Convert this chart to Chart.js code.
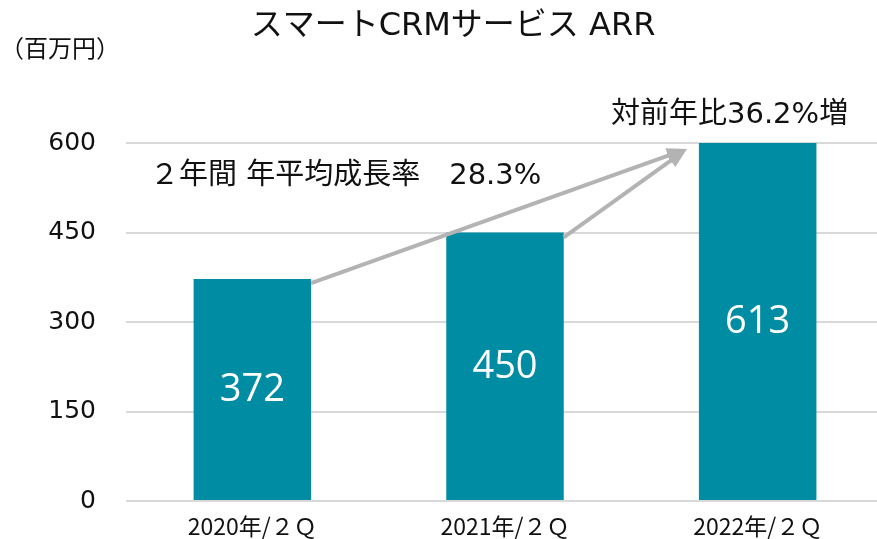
<!DOCTYPE html>
<html>
<head>
<meta charset="utf-8">
<script src="https://cdn.jsdelivr.net/npm/chart.js@4/dist/chart.umd.min.js"></script>
<style>
  html, body { margin: 0; padding: 0; background: #fff; overflow: hidden; }
  #wrap { width: 884px; height: 539px; }
</style>
</head>
<body>
<div id="wrap"><canvas id="c" width="884" height="539"></canvas></div>
<script>
const categories = ['2020年/２Ｑ', '2021年/２Ｑ', '2022年/２Ｑ'];
const arrValues = [372, 450, 613];
const yTickValues = [0, 150, 300, 450, 600];
const chartTitle = 'スマートCRMサービス ARR';
const unitLabel = '（百万円）';
const yoyLabel = '対前年比36.2%増';
const cagrLabel = '２年間 年平均成長率　28.3%';

const FONT = '"DejaVu Sans", "Noto Sans CJK JP", sans-serif';
const BAR_COLOR = '#008ca3';

const overlay = {
  id: 'overlay',
  afterDatasetsDraw(chart) {
    const ctx = chart.ctx;
    const area = chart.chartArea;
    const xs = chart.scales.x, ys = chart.scales.y;
    const meta = chart.getDatasetMeta(0);
    ctx.save();
    // value labels
    ctx.fillStyle = '#ffffff';
    ctx.font = '38px "Open Sans", "DejaVu Sans", sans-serif';
    ctx.textAlign = 'center';
    ctx.textBaseline = 'middle';
    meta.data.forEach((bar, i) => {
      const top = Math.max(bar.y, area.top);
      const bottom = bar.base;
      ctx.fillText(String(arrValues[i]), bar.x, (top + bottom) / 2 + 1);
    });
    // arrows
    const tipX = xs.getPixelForValue(1.72);
    const tipY = ys.getPixelForValue(590);
    const b0 = meta.data[0], b1 = meta.data[1];
    const starts = [
      [b0.x + b0.width / 2, ys.getPixelForValue(arrValues[0] - 7)],
      [b1.x + b1.width / 2, ys.getPixelForValue(arrValues[1] - 8)]
    ];
    ctx.strokeStyle = '#b3b3b3';
    ctx.fillStyle = '#b3b3b3';
    ctx.lineWidth = 4;
    ctx.lineCap = 'butt';
    starts.forEach(([sx, sy]) => {
      const ang = Math.atan2(tipY - sy, tipX - sx);
      const headLen = 20, headW = 8;
      const bx = tipX - headLen * Math.cos(ang);
      const by = tipY - headLen * Math.sin(ang);
      ctx.beginPath();
      ctx.moveTo(sx, sy);
      ctx.lineTo(bx + 3 * Math.cos(ang), by + 3 * Math.sin(ang));
      ctx.stroke();
      ctx.beginPath();
      ctx.moveTo(tipX, tipY);
      ctx.lineTo(bx + headW * Math.sin(ang), by - headW * Math.cos(ang));
      ctx.lineTo(bx - headW * Math.sin(ang), by + headW * Math.cos(ang));
      ctx.closePath();
      ctx.fill();
    });
    // texts
    ctx.fillStyle = '#111111';
    ctx.textBaseline = 'middle';
    ctx.textAlign = 'center';
    ctx.font = '32px ' + FONT;
    ctx.fillText(chartTitle, 453, 27);
    ctx.textAlign = 'left';
    ctx.font = '24px ' + FONT;
    ctx.fillText(unitLabel, 0, 51);
    ctx.font = '29px ' + FONT;
    ctx.fillText(yoyLabel, 611, 115);
    ctx.fillText(cagrLabel, 150, 176);
    ctx.restore();
  }
};

new Chart(document.getElementById('c'), {
  type: 'bar',
  data: {
    labels: categories,
    datasets: [{
      data: arrValues,
      backgroundColor: BAR_COLOR,
      borderWidth: 0,
      barPercentage: 1,
      categoryPercentage: 0.465
    }]
  },
  options: {
    responsive: false,
    animation: false,
    devicePixelRatio: 1,
    layout: { padding: { top: 143, right: 0, bottom: 0, left: 0 } },
    plugins: { legend: { display: false }, tooltip: { enabled: false }, title: { display: false } },
    scales: {
      x: {
        grid: { display: false, drawTicks: false },
        border: { display: false },
        ticks: {
          color: '#111111',
          padding: 11,
          font: { family: '"Noto Sans CJK JP", sans-serif', size: 23 }
        },
        afterFit(scale) { scale.height = 38; }
      },
      y: {
        min: 0,
        max: 600,
        afterBuildTicks(scale) { scale.ticks = yTickValues.map(v => ({ value: v })); },
        grid: { color: '#d9d9d9', lineWidth: 2, drawTicks: true, tickLength: 30, tickColor: 'rgba(0,0,0,0)' },
        border: { display: false },
        ticks: {
          color: '#111111',
          padding: 0,
          font: { family: FONT, size: 25 }
        },
        afterFit(scale) { scale.width = 126; }
      }
    }
  },
  plugins: [overlay]
});
</script>
</body>
</html>
